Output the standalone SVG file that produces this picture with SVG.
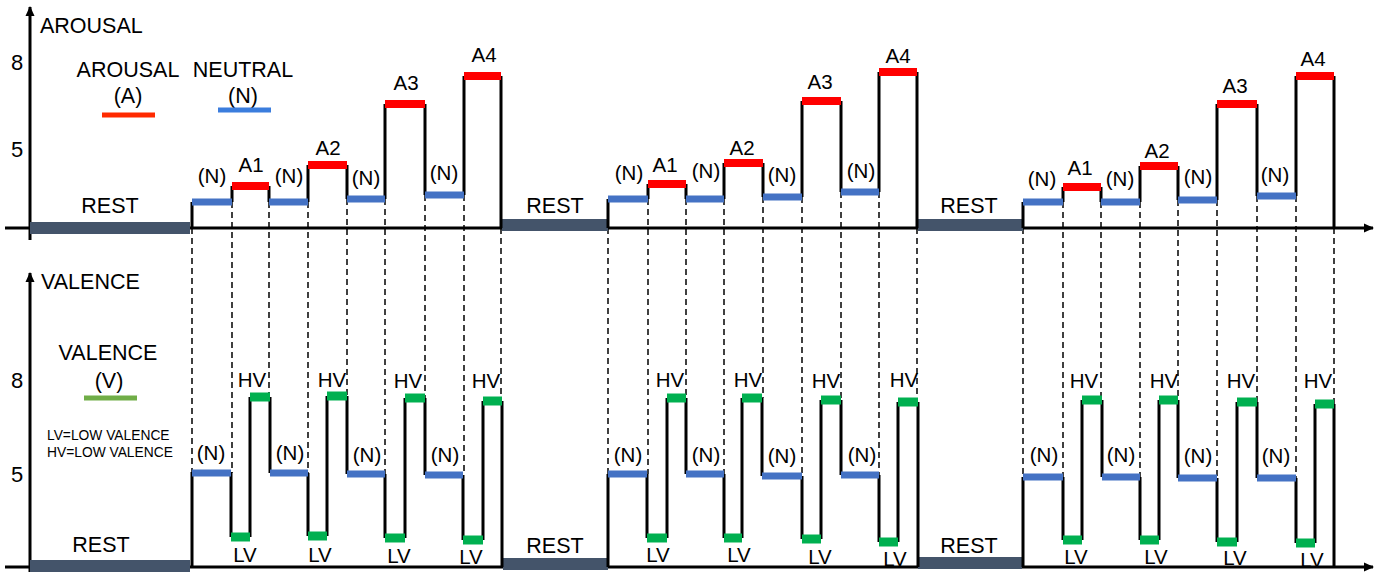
<svg xmlns="http://www.w3.org/2000/svg" width="1377" height="572" viewBox="0 0 1377 572">
  <defs>
    <marker id="arrow" viewBox="0 0 10 10" refX="9" refY="5" markerWidth="10" markerHeight="10" markerUnits="userSpaceOnUse" orient="auto">
      <path d="M0,0.5 L10,5 L0,9.5 Z" fill="#000"/>
    </marker>
    <style>
      text { font-family: "Liberation Sans", Arial, sans-serif; fill: #000; }
      .t { font-size: 20.5px; }
      .h { font-size: 21.5px; }
      .c { text-anchor: middle; }
      .num { font-size: 22px; text-anchor: middle; }
      .small { font-size: 13.8px; }
      .axis { stroke: #000; stroke-width: 3; fill: none; }
      .step { stroke: #000; stroke-width: 3; fill: none; }
      .dash { stroke: #000; stroke-width: 1.5; stroke-dasharray: 6 4; fill: none; }
      .rest { stroke: #44546a; stroke-width: 12; }
      .barN { stroke: #4472c4; stroke-width: 7; }
      .barA { stroke: #ff0000; stroke-width: 8; }
      .barV { stroke: #00b050; stroke-width: 9; }
    </style>
  </defs>
  <rect width="1377" height="572" fill="#fff"/>

  <!-- dashed guides linking arousal transitions to valence transitions -->
  <g id="connectors">
    <path class="dash" d="M192,228 V472 M232,202 V473 M269,202 V397 M308,202 V473 M347,199 V396 M385,199 V474 M425,195 V398 M464,195 V475 M501,228 V401"/>
    <path class="dash" d="M608,228 V474 M648,199 V474 M686,199 V398 M724,199 V474 M763,197 V398 M802,197 V476 M841,192 V400 M879,192 V475 M917,228 V402"/>
    <path class="dash" d="M1023,228 V477 M1063,202 V477 M1101,202 V400 M1140,202 V477 M1178,200 V400 M1217,200 V478 M1257,196 V402 M1296,196 V478 M1334,228 V404"/>
  </g>

  <!-- arousal panel -->
  <g id="arousal-axes">
    <line class="axis" x1="30" y1="240" x2="30" y2="7" marker-end="url(#arrow)"/>
    <line class="axis" x1="5" y1="228" x2="1373" y2="228" marker-end="url(#arrow)"/>
    <text class="h" x="40" y="33">AROUSAL</text>
    <text class="num" x="17" y="70">8</text>
    <text class="num" x="17" y="157">5</text>
  </g>

  <g id="arousal-legend">
    <text class="h c" x="128" y="77">AROUSAL</text>
    <text class="h c" x="128" y="103">(A)</text>
    <line x1="102" y1="115" x2="155" y2="115" stroke="#ff2a00" stroke-width="5"/>
    <text class="h c" x="243" y="77">NEUTRAL</text>
    <text class="h c" x="243" y="103">(N)</text>
    <line x1="218" y1="110" x2="271" y2="110" stroke="#3b7ddd" stroke-width="5"/>
  </g>

  <g id="arousal-rest">
    <line class="rest" x1="30" y1="228" x2="190" y2="228"/>
    <line class="rest" x1="502" y1="225" x2="608" y2="225"/>
    <line class="rest" x1="918" y1="225" x2="1023" y2="225"/>
    <text class="h c" x="110" y="213">REST</text>
    <text class="h c" x="555" y="213">REST</text>
    <text class="h c" x="969" y="213">REST</text>
  </g>

  <g id="arousal-block-1">
    <path class="step" d="M192,228 V202 M232,202 V186 M269,186 V202 M308,202 V165 M347,165 V199 M385,199 V104 M425,104 V195 M464,195 V76 M501,76 V228"/>
    <line class="barN" x1="192" y1="202" x2="232" y2="202"/>
    <line class="barA" x1="232" y1="186" x2="269" y2="186"/>
    <line class="barN" x1="269" y1="202" x2="308" y2="202"/>
    <line class="barA" x1="308" y1="165" x2="347" y2="165"/>
    <line class="barN" x1="347" y1="199" x2="385" y2="199"/>
    <line class="barA" x1="385" y1="104" x2="425" y2="104"/>
    <line class="barN" x1="425" y1="195" x2="464" y2="195"/>
    <line class="barA" x1="464" y1="76" x2="501" y2="76"/>
    <text class="t c" x="212" y="183">(N)</text>
    <text class="t c" x="251" y="172">A1</text>
    <text class="t c" x="289" y="183">(N)</text>
    <text class="t c" x="328" y="155">A2</text>
    <text class="t c" x="366" y="185">(N)</text>
    <text class="t c" x="406" y="90">A3</text>
    <text class="t c" x="444" y="180">(N)</text>
    <text class="t c" x="484" y="62">A4</text>
  </g>

  <g id="arousal-block-2">
    <path class="step" d="M608,228 V199 M648,199 V184 M686,184 V199 M724,199 V163 M763,163 V197 M802,197 V101 M841,101 V192 M879,192 V72 M917,72 V228"/>
    <line class="barN" x1="608" y1="199" x2="648" y2="199"/>
    <line class="barA" x1="648" y1="184" x2="686" y2="184"/>
    <line class="barN" x1="686" y1="199" x2="724" y2="199"/>
    <line class="barA" x1="724" y1="163" x2="763" y2="163"/>
    <line class="barN" x1="763" y1="197" x2="802" y2="197"/>
    <line class="barA" x1="802" y1="101" x2="841" y2="101"/>
    <line class="barN" x1="841" y1="192" x2="879" y2="192"/>
    <line class="barA" x1="879" y1="72" x2="917" y2="72"/>
    <text class="t c" x="629" y="180">(N)</text>
    <text class="t c" x="665" y="172">A1</text>
    <text class="t c" x="706" y="178">(N)</text>
    <text class="t c" x="742" y="155">A2</text>
    <text class="t c" x="782" y="182">(N)</text>
    <text class="t c" x="820" y="89">A3</text>
    <text class="t c" x="861" y="178">(N)</text>
    <text class="t c" x="898" y="63">A4</text>
  </g>

  <g id="arousal-block-3">
    <path class="step" d="M1023,228 V202 M1063,202 V187 M1101,187 V202 M1140,202 V166 M1178,166 V200 M1217,200 V104 M1257,104 V196 M1296,196 V76 M1334,76 V228"/>
    <line class="barN" x1="1023" y1="202" x2="1063" y2="202"/>
    <line class="barA" x1="1063" y1="187" x2="1101" y2="187"/>
    <line class="barN" x1="1101" y1="202" x2="1140" y2="202"/>
    <line class="barA" x1="1140" y1="166" x2="1178" y2="166"/>
    <line class="barN" x1="1178" y1="200" x2="1217" y2="200"/>
    <line class="barA" x1="1217" y1="104" x2="1257" y2="104"/>
    <line class="barN" x1="1257" y1="196" x2="1296" y2="196"/>
    <line class="barA" x1="1296" y1="76" x2="1334" y2="76"/>
    <text class="t c" x="1042" y="186">(N)</text>
    <text class="t c" x="1080" y="175">A1</text>
    <text class="t c" x="1120" y="186">(N)</text>
    <text class="t c" x="1157" y="158">A2</text>
    <text class="t c" x="1198" y="184">(N)</text>
    <text class="t c" x="1235" y="93">A3</text>
    <text class="t c" x="1275" y="182">(N)</text>
    <text class="t c" x="1313" y="66">A4</text>
  </g>

  <!-- valence panel -->
  <g id="valence-axes">
    <line class="axis" x1="30" y1="572" x2="30" y2="273" marker-end="url(#arrow)"/>
    <line class="axis" x1="5" y1="567" x2="1373" y2="567" marker-end="url(#arrow)"/>
    <text class="h" x="41" y="289">VALENCE</text>
    <text class="num" x="17" y="388">8</text>
    <text class="num" x="17" y="482">5</text>
  </g>

  <g id="valence-legend">
    <text class="h c" x="108" y="360">VALENCE</text>
    <text class="h c" x="109" y="388">(V)</text>
    <line x1="84" y1="398" x2="137" y2="398" stroke="#70ad47" stroke-width="5"/>
    <text class="small" x="47" y="440">LV=LOW VALENCE</text>
    <text class="small" x="47" y="457">HV=LOW VALENCE</text>
  </g>

  <g id="valence-rest">
    <line class="rest" x1="30" y1="566" x2="190" y2="566"/>
    <line class="rest" x1="503" y1="564" x2="608" y2="564"/>
    <line class="rest" x1="918" y1="563" x2="1022" y2="563"/>
    <text class="h c" x="101" y="552">REST</text>
    <text class="h c" x="555" y="553">REST</text>
    <text class="h c" x="969" y="553">REST</text>
  </g>

  <g id="valence-block-1">
    <path class="step" d="M192,567 V472 M231,472 V537 M250,537 V397 M270,397 V473 M308,473 V536 M327,536 V396 M347,396 V474 M385,474 V538 M405,538 V398 M425,398 V475 M463,475 V540 M483,540 V401 M502,401 V567"/>
    <line class="barN" x1="192" y1="473" x2="231" y2="473"/>
    <line class="barV" x1="231" y1="537" x2="250" y2="537"/>
    <line class="barV" x1="250" y1="397" x2="270" y2="397"/>
    <line class="barN" x1="270" y1="473" x2="308" y2="473"/>
    <line class="barV" x1="308" y1="536" x2="327" y2="536"/>
    <line class="barV" x1="327" y1="396" x2="347" y2="396"/>
    <line class="barN" x1="347" y1="474" x2="385" y2="474"/>
    <line class="barV" x1="385" y1="538" x2="405" y2="538"/>
    <line class="barV" x1="405" y1="398" x2="425" y2="398"/>
    <line class="barN" x1="425" y1="475" x2="463" y2="475"/>
    <line class="barV" x1="463" y1="540" x2="483" y2="540"/>
    <line class="barV" x1="483" y1="401" x2="502" y2="401"/>
    <text class="t c" x="211" y="460">(N)</text>
    <text class="t c" x="252" y="387">HV</text>
    <text class="t c" x="245" y="562">LV</text>
    <text class="t c" x="290" y="460">(N)</text>
    <text class="t c" x="332" y="387">HV</text>
    <text class="t c" x="320" y="562">LV</text>
    <text class="t c" x="367" y="462">(N)</text>
    <text class="t c" x="408" y="388">HV</text>
    <text class="t c" x="399" y="563">LV</text>
    <text class="t c" x="445" y="462">(N)</text>
    <text class="t c" x="486" y="388">HV</text>
    <text class="t c" x="471" y="564">LV</text>
  </g>

  <g id="valence-block-2">
    <path class="step" d="M608,567 V474 M647,474 V538 M667,538 V398 M686,398 V474 M724,474 V538 M742,538 V398 M762,398 V476 M802,476 V539 M821,539 V400 M841,400 V475 M879,475 V542 M898,542 V402 M918,402 V567"/>
    <line class="barN" x1="608" y1="474" x2="647" y2="474"/>
    <line class="barV" x1="647" y1="538" x2="667" y2="538"/>
    <line class="barV" x1="667" y1="398" x2="686" y2="398"/>
    <line class="barN" x1="686" y1="474" x2="724" y2="474"/>
    <line class="barV" x1="724" y1="538" x2="742" y2="538"/>
    <line class="barV" x1="742" y1="398" x2="762" y2="398"/>
    <line class="barN" x1="762" y1="476" x2="802" y2="476"/>
    <line class="barV" x1="802" y1="539" x2="821" y2="539"/>
    <line class="barV" x1="821" y1="400" x2="841" y2="400"/>
    <line class="barN" x1="841" y1="475" x2="879" y2="475"/>
    <line class="barV" x1="879" y1="542" x2="898" y2="542"/>
    <line class="barV" x1="898" y1="402" x2="918" y2="402"/>
    <text class="t c" x="628" y="462">(N)</text>
    <text class="t c" x="670" y="387">HV</text>
    <text class="t c" x="658" y="562">LV</text>
    <text class="t c" x="706" y="462">(N)</text>
    <text class="t c" x="748" y="387">HV</text>
    <text class="t c" x="739" y="562">LV</text>
    <text class="t c" x="782" y="463">(N)</text>
    <text class="t c" x="826" y="388">HV</text>
    <text class="t c" x="820" y="564">LV</text>
    <text class="t c" x="862" y="462">(N)</text>
    <text class="t c" x="904" y="387">HV</text>
    <text class="t c" x="895" y="566">LV</text>
  </g>

  <g id="valence-block-3">
    <path class="step" d="M1023,567 V477 M1063,477 V540 M1082,540 V400 M1102,400 V477 M1140,477 V540 M1159,540 V400 M1178,400 V478 M1217,478 V542 M1237,542 V402 M1257,402 V478 M1296,478 V543 M1315,543 V404 M1334,404 V567"/>
    <line class="barN" x1="1023" y1="477" x2="1063" y2="477"/>
    <line class="barV" x1="1063" y1="540" x2="1082" y2="540"/>
    <line class="barV" x1="1082" y1="400" x2="1102" y2="400"/>
    <line class="barN" x1="1102" y1="477" x2="1140" y2="477"/>
    <line class="barV" x1="1140" y1="540" x2="1159" y2="540"/>
    <line class="barV" x1="1159" y1="400" x2="1178" y2="400"/>
    <line class="barN" x1="1178" y1="478" x2="1217" y2="478"/>
    <line class="barV" x1="1217" y1="542" x2="1237" y2="542"/>
    <line class="barV" x1="1237" y1="402" x2="1257" y2="402"/>
    <line class="barN" x1="1257" y1="478" x2="1296" y2="478"/>
    <line class="barV" x1="1296" y1="543" x2="1315" y2="543"/>
    <line class="barV" x1="1315" y1="404" x2="1334" y2="404"/>
    <text class="t c" x="1044" y="462">(N)</text>
    <text class="t c" x="1084" y="388">HV</text>
    <text class="t c" x="1076" y="564">LV</text>
    <text class="t c" x="1121" y="462">(N)</text>
    <text class="t c" x="1164" y="388">HV</text>
    <text class="t c" x="1156" y="564">LV</text>
    <text class="t c" x="1198" y="463">(N)</text>
    <text class="t c" x="1241" y="388">HV</text>
    <text class="t c" x="1235" y="565">LV</text>
    <text class="t c" x="1276" y="463">(N)</text>
    <text class="t c" x="1318" y="388">HV</text>
    <text class="t c" x="1312" y="567">LV</text>
  </g>
</svg>
